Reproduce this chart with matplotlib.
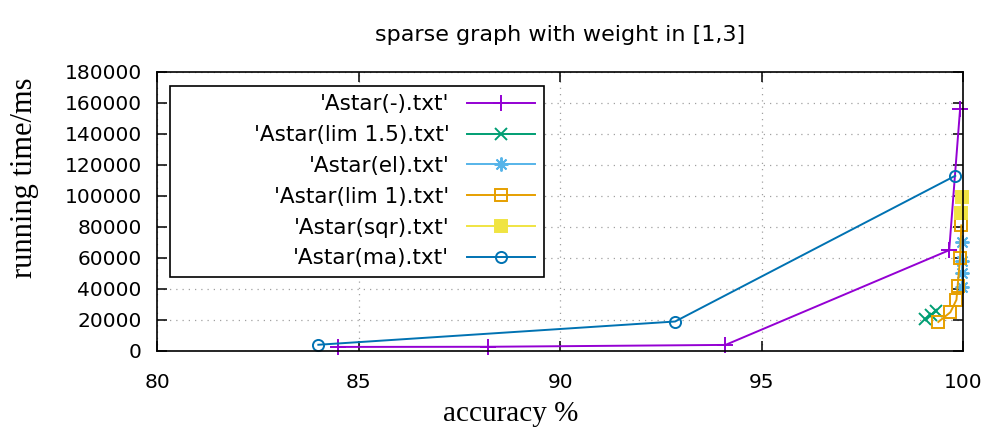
import matplotlib
matplotlib.use("Agg")
import matplotlib.pyplot as plt
from matplotlib.patches import Rectangle

# data (accuracy %, running time ms)
labels = ["'Astar(-).txt'", "'Astar(lim 1.5).txt'", "'Astar(el).txt'",
          "'Astar(lim 1).txt'", "'Astar(sqr).txt'", "'Astar(ma).txt'"]

plain_x = [84.5, 88.2, 94.1, 99.65, 99.92]
plain_y = [2600, 2700, 3900, 65000, 156000]

lim15_x = [99.05, 99.2, 99.32]
lim15_y = [20500, 23500, 25500]

el_x = [99.96, 99.97, 99.97, 99.98]
el_y = [41000, 50000, 58000, 70000]

lim1_x = [99.38, 99.68, 99.83, 99.86, 99.92, 99.95]
lim1_y = [18700, 25000, 33000, 42000, 60000, 81000]

sqr_x = [99.95, 99.97]
sqr_y = [89000, 99000]

ma_x = [84.0, 92.85, 99.8]
ma_y = [4000, 19000, 113000]

xticks = [80, 85, 90, 95, 100]
yticks = list(range(0, 180001, 20000))

colors = ['#9400d3', '#009e73', '#56b4e9', '#e69f00', '#f0e442', '#0072b2']
markers = ['+', 'x', (8, 2, 0), 's', 's', 'o']
msizes = [11, 9, 10, 8, 8, 8]
fills = ['full', 'full', 'full', 'none', 'full', 'none']

plt.rcParams['font.family'] = 'DejaVu Sans'
fig = plt.figure(figsize=(9.88, 4.28), dpi=100)
ax = fig.add_axes([0.159, 0.180, 0.816, 0.652])

series = [(plain_x, plain_y), (lim15_x, lim15_y), (el_x, el_y),
          (lim1_x, lim1_y), (sqr_x, sqr_y), (ma_x, ma_y)]
for (xs, ys), lb, cl, mk, ms, fs in zip(series, labels, colors, markers, msizes, fills):
    ax.plot(xs, ys, '-', marker=mk, color=cl, label=lb, linewidth=1.4,
            markersize=ms, fillstyle=fs, markeredgewidth=1.4, clip_on=False)

ax.set_xlim(80, 100)
ax.set_ylim(0, 180000)
ax.set_xticks(xticks)
ax.set_yticks(yticks)
ax.tick_params(direction='in', top=True, right=True, length=7, width=1.1,
               labelsize=14.5)
ax.tick_params(axis='x', pad=16)
ax.tick_params(axis='y', pad=11)
for s in ax.spines.values():
    s.set_linewidth(1.2)
ax.grid(True, color='#a0a0a0', linestyle=(0, (1, 4)), linewidth=0.9)

ax.set_title('sparse graph with weight in [1,3]', fontsize=16, pad=22)
ax.set_xlabel('accuracy %', family='Liberation Serif', fontsize=21)
ax.set_ylabel('running time/ms', family='Liberation Serif', fontsize=22)
ax.xaxis.set_label_coords(0.438, -0.18)
ax.yaxis.set_label_coords(-0.147, 0.62)

leg = ax.legend(loc='upper right', bbox_to_anchor=(0.480, 0.95),
                markerfirst=False, frameon=False, fontsize=15.5,
                handlelength=3.2, handletextpad=0.8, labelspacing=0.5,
                borderpad=0.4, borderaxespad=0)
leg.set_zorder(5)

# gnuplot-style key box: wider to the left than the entries
fig.canvas.draw()
bb = leg.get_window_extent().transformed(ax.transAxes.inverted())
box = Rectangle((0.016, bb.y0), bb.x1 - 0.016, bb.y1 - bb.y0,
                transform=ax.transAxes, facecolor='white', edgecolor='black',
                linewidth=1.2, zorder=4.5)
ax.add_patch(box)

fig.savefig('out.png', dpi=100)
